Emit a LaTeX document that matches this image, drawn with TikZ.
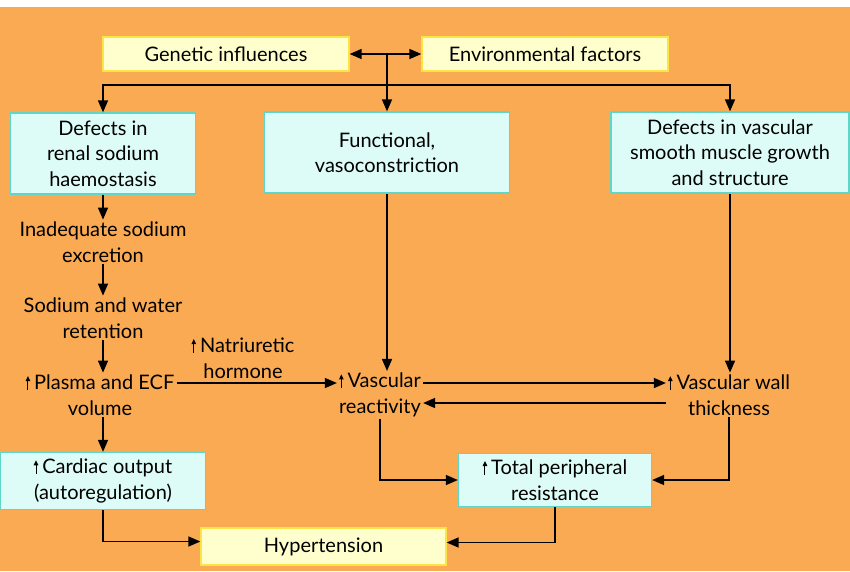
\documentclass[tikz,border=0pt]{standalone}
\usepackage{fontspec}
\setmainfont{Lato}
\usetikzlibrary{arrows.meta}
\definecolor{bg}{RGB}{251,170,84}
\definecolor{cyanfill}{RGB}{221,252,248}
\definecolor{cyanline}{RGB}{95,215,200}
\definecolor{yelfill}{RGB}{255,255,205}
\definecolor{yelline}{RGB}{250,228,70}
\newcommand\upar{\tikz[baseline=0pt]\draw[line width=1pt,-{Triangle[length=5pt,width=4.5pt]}] (0,0) -- (0,13.5pt);\kern4pt\relax}
\begin{document}
\begin{tikzpicture}[x=1pt,y=-1pt, font=\fontsize{20}{25.5}\selectfont,
  cbox/.style={draw=cyanline, line width=1.3pt, fill=cyanfill, align=center, inner sep=0pt},
  ybox/.style={draw=yelline, line width=1.3pt, fill=yelfill, align=center, inner sep=0pt},
  txt/.style={align=center, inner sep=2pt},
  conn/.style={line width=1.5pt, -{Triangle[length=12pt,width=10pt]}},
  plain/.style={line width=1.5pt}]
\useasboundingbox (0,0) rectangle (850,571);
\fill[white] (0,0) rectangle (850,7);
\fill[bg] (0,7) rectangle (850,571);

% boxes
\node[ybox, minimum width=246pt, minimum height=34pt] (gen) at (226,54) {Genetic influences};
\node[ybox, minimum width=246pt, minimum height=34pt] (env) at (545,54) {Environmental factors};
\node[cbox, minimum width=185pt, minimum height=81pt] (renal) at (103,153.5) {Defects in\\renal sodium\\haemostasis};
\node[cbox, minimum width=245pt, minimum height=81pt] (func) at (387,152.5) {Functional,\\vasoconstriction};
\node[cbox, minimum width=238pt, minimum height=81pt] (vasc) at (730,152.5) {Defects in vascular\\smooth muscle growth\\and structure};
\node[cbox, minimum width=205pt, minimum height=57pt] (cardiac) at (103,481) {\upar Cardiac output\\(autoregulation)};
\node[cbox, minimum width=193pt, minimum height=53pt] (tpr) at (555,480) {\upar Total peripheral\\resistance};
\node[ybox, minimum width=245pt, minimum height=37pt] (hyper) at (323.5,546.5) {Hypertension};

% plain text nodes
\node[txt] (inad) at (103,242) {Inadequate sodium\\excretion};
\node[txt] (sodium) at (103,318) {Sodium and water\\retention};
\node[txt] (plasma) at (100,395) {\upar Plasma and ECF\\volume};
\node[txt] (natri) at (243,358) {\upar Natriuretic\\hormone};
\node[txt] (react) at (380,395) {\upar Vascular\\reactivity};
\node[txt] (wall) at (729,395) {\upar Vascular wall\\thickness};

% top connectors
\draw[plain, {Triangle[length=12pt,width=10pt]}-{Triangle[length=12pt,width=10pt]}] (gen) -- (env);
\coordinate (hub) at (387,54);
\coordinate (split) at (387,85);
\draw[plain] (hub) -- (split);
\draw[conn] (split) -- (func.north);
\draw[conn] (split) -| (renal.north);
\draw[conn] (split) -| (vasc.north);

% left column
\draw[conn] (renal.south) -- (inad.north);
\draw[conn] (inad.south) -- (sodium.north);
\draw[conn] (sodium.south) -- (sodium.south |- plasma.north);
\draw[conn] (sodium.south |- plasma.south) -- (cardiac.north);

% middle
\draw[conn] ([yshift=12pt]plasma.east) -- ([yshift=12pt]react.west);
\draw[conn] (func.south) -- (func.south |- react.north);
\draw[conn] ([yshift=12pt]react.east) -- ([yshift=12pt]wall.west);
\draw[conn] ([yshift=-8pt]wall.west) -- ([yshift=-8pt]react.east);
\draw[conn] (vasc.south) -- (vasc.south |- wall.north);

% to TPR
\draw[conn] (react.south) |- (tpr.west);
\draw[conn] (wall.south) |- (tpr.east);

% to hypertension
\draw[conn] (cardiac.south) |- ([yshift=5pt]hyper.west);
\draw[conn] (tpr.south) |- ([yshift=4pt]hyper.east);
\end{tikzpicture}
\end{document}
